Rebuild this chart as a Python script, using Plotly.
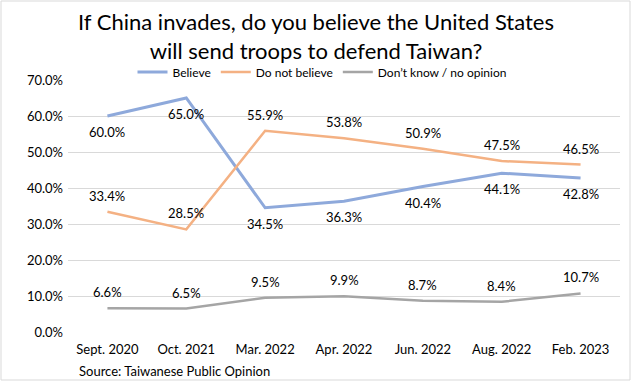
import plotly.graph_objects as go

categories = ["Sept. 2020", "Oct. 2021", "Mar. 2022", "Apr. 2022", "Jun. 2022", "Aug. 2022", "Feb. 2023"]
believe = [60.0, 65.0, 34.5, 36.3, 40.4, 44.1, 42.8]
not_believe = [33.4, 28.5, 55.9, 53.8, 50.9, 47.5, 46.5]
dont_know = [6.6, 6.5, 9.5, 9.9, 8.7, 8.4, 10.7]
y_ticks = [0, 10, 20, 30, 40, 50, 60, 70]

FONT = "Lato"
series = [
    ("Believe", believe, "#8EA9DB", 3, -16),
    ("Do not believe", not_believe, "#F4B183", 2.5, 16),
    ("Don\u2019t know / no opinion", dont_know, "#A5A5A5", 2.5, 16),
]

fig = go.Figure()
annotations = []
for name, vals, color, w, shift in series:
    fig.add_trace(go.Scatter(x=categories, y=vals, mode="lines", name=name,
                             line=dict(color=color, width=w)))
    for c, v in zip(categories, vals):
        annotations.append(dict(x=c, y=v, text=f"{v:.1f}%", showarrow=False,
                                yshift=shift, font=dict(family=FONT, size=13, color="#000")))

W, H = 632, 382
L, R, T, B = 68, 12, 80, 50
pw, ph = W - L - R, H - T - B

annotations.append(dict(xref="paper", yref="paper", x=(77 - L) / pw, y=(332 - 371) / ph,
                        xanchor="left", yanchor="middle", showarrow=False,
                        text="Source: Taiwanese Public Opinion",
                        font=dict(family=FONT, size=13, color="#000")))

fig.update_layout(
    width=W, height=H,
    margin=dict(l=L, r=R, t=T, b=B, autoexpand=False),
    paper_bgcolor="white", plot_bgcolor="white",
    title=dict(text="If China invades, do you believe the United States<br>will send troops to defend Taiwan?",
               x=0.5, xanchor="center", y=1 - 30 / H, yanchor="middle",
               font=dict(family=FONT, size=22, color="#000")),
    legend=dict(orientation="h", x=(322 - L) / pw, xanchor="center",
                y=(332 - 72) / ph, yanchor="middle",
                font=dict(family=FONT, size=12, color="#000"),
                bgcolor="rgba(0,0,0,0)", itemwidth=30, tracegroupgap=0),
    xaxis=dict(range=[-0.5, 6.5], showgrid=False, showline=False, zeroline=False,
               ticks="", ticklabelstandoff=8,
               tickfont=dict(family=FONT, size=13, color="#000")),
    yaxis=dict(range=[0, 70], tickvals=y_ticks, ticktext=[f"{t:.1f}%" for t in y_ticks],
               showgrid=True, gridcolor="#D9D9D9", gridwidth=1, zeroline=False,
               showline=False, ticks="", ticklabelstandoff=4,
               tickfont=dict(family=FONT, size=13, color="#000")),
    annotations=annotations,
    shapes=[dict(type="rect", xref="paper", yref="paper",
                 x0=(1 - L) / pw, x1=(630 - L) / pw,
                 y0=(332 - 380) / ph, y1=(332 - 1) / ph,
                 line=dict(color="#D9D9D9", width=1), layer="below")],
)

fig.write_html("out.html", config={"displayModeBar": False},
               post_script="document.body.style.margin='0';document.body.style.overflow='hidden';")
